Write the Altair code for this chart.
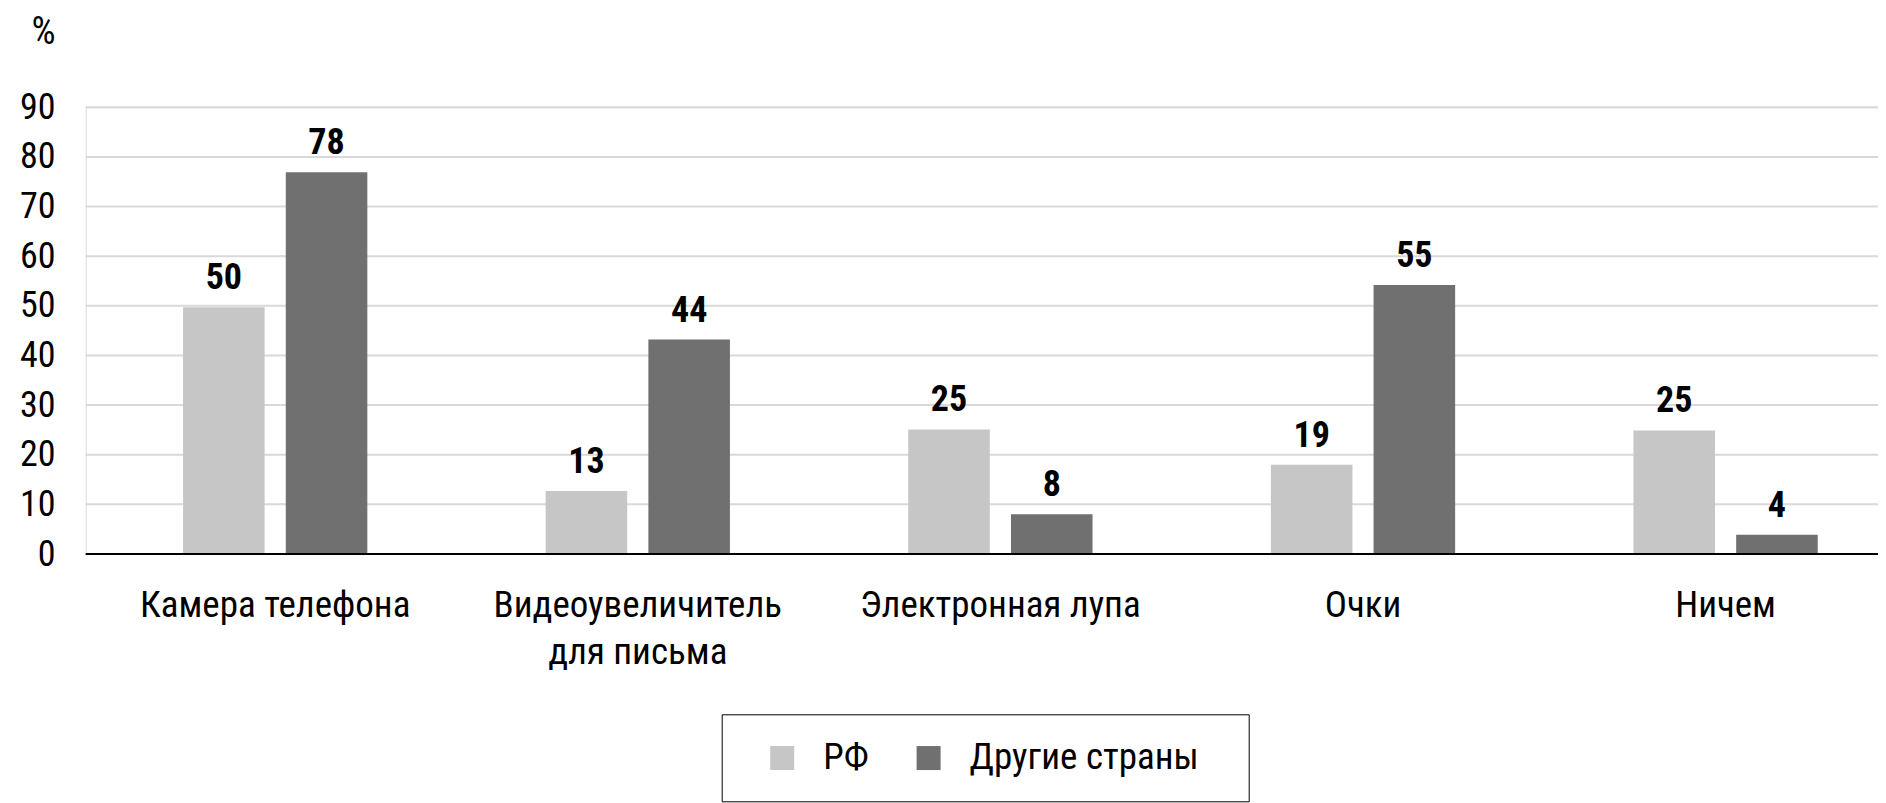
import altair as alt
import pandas as pd

FONT = "Roboto Condensed, Liberation Sans Narrow, DejaVu Sans Condensed, sans-serif"

categories = ["Камера телефона", "Видеоувеличитель\nдля письма", "Электронная лупа", "Очки", "Ничем"]
series = ["РФ", "Другие страны"]
rf_values = [49.7, 12.7, 25.1, 18.0, 24.9]
other_values = [76.9, 43.2, 8.0, 54.2, 3.9]
rf_labels = ["50", "13", "25", "19", "25"]
other_labels = ["78", "44", "8", "55", "4"]
y_ticks = [0, 10, 20, 30, 40, 50, 60, 70, 80, 90]
colors = ["#c6c6c6", "#707070"]

rows = []
for i, c in enumerate(categories):
    rows.append({"cat": c, "series": series[0], "value": rf_values[i], "label": rf_labels[i]})
    rows.append({"cat": c, "series": series[1], "value": other_values[i], "label": other_labels[i]})
df = pd.DataFrame(rows)
grid_df = pd.DataFrame({"tick": [t for t in y_ticks if t > 0]})
base_df = pd.DataFrame({"tick": [0]})

W = 1792.3
H = 446.7

x_enc = alt.X("cat:N", sort=categories,
              scale=alt.Scale(range=[8.2, 1821.2], paddingInner=0, paddingOuter=0),
              axis=alt.Axis(title=None, domain=False, ticks=False, labelAngle=0,
                            labelFont=FONT, labelFontSize=37, labelColor="#000000",
                            labelBaseline="top", labelPadding=33.5, labelLineHeight=47,
                            labelLimit=0,
                            labelExpr="split(datum.label, '\\n')"))
xoff_enc = alt.XOffset("series:N", sort=series,
                       scale=alt.Scale(paddingInner=0.206, paddingOuter=0.868))
y_scale = alt.Scale(domain=[0, 90], nice=False)
y_axis = alt.Axis(values=y_ticks, domain=False, ticks=False, grid=False,
                  labelFont=FONT, labelFontSize=36, labelColor="#000000",
                  labelPadding=30.7,
                  title="%", titleFont=FONT, titleFontSize=38, titleFontWeight="normal",
                  titleColor="#000000", titleAngle=0, titleAlign="right",
                  titleBaseline="alphabetic", titleX=-30.7, titleY=-64.3)

grid = alt.Chart(grid_df).mark_rule(color="#d9d9d9", strokeWidth=2).encode(
    y=alt.Y("tick:Q", scale=y_scale, axis=y_axis, title="%")
)

legend = alt.Legend(
    orient="none", legendX=636, legendY=607,
    direction="horizontal", columns=2,
    title="\u00a0", titleOrient="left", titleFontSize=1, titlePadding=17,
    symbolType="square", symbolSize=576, symbolStrokeWidth=0,
    labelFont=FONT, labelFontSize=37, labelColor="#000000", labelLimit=600,
    labelExpr="datum.value == '" + series[-1] + "' ? datum.label + '\u2800' : datum.label",
    labelOffset=22.5, columnPadding=40.4, padding=25,
    strokeColor="#000000", fillColor="#ffffff",
)

bars = alt.Chart(df).mark_bar().encode(
    x=x_enc,
    xOffset=xoff_enc,
    y=alt.Y("value:Q", scale=y_scale, title="%", axis=y_axis),
    color=alt.Color("series:N", sort=series,
                    scale=alt.Scale(domain=series, range=colors),
                    legend=legend),
)

baseline = alt.Chart(base_df).mark_rule(color="#000000", strokeWidth=2).encode(
    y=alt.Y("tick:Q", scale=y_scale, axis=y_axis, title="%")
)

labels = alt.Chart(df).mark_text(font=FONT, fontSize=36, fontWeight="bold",
                                 color="#000000", baseline="alphabetic", dy=-18).encode(
    x=x_enc,
    xOffset=xoff_enc,
    y=alt.Y("value:Q", scale=y_scale, axis=y_axis, title="%"),
    text="label:N",
)

chart = alt.layer(grid, bars, baseline, labels).properties(
    width=W, height=H,
    autosize=alt.AutoSizeParams(type="none"),
    padding={"left": 77.7, "top": 99.3, "right": 0, "bottom": 249},
).configure_view(stroke=None).configure(background="#ffffff")

chart.save("out.html", embed_options={"renderer": "svg", "actions": False})
